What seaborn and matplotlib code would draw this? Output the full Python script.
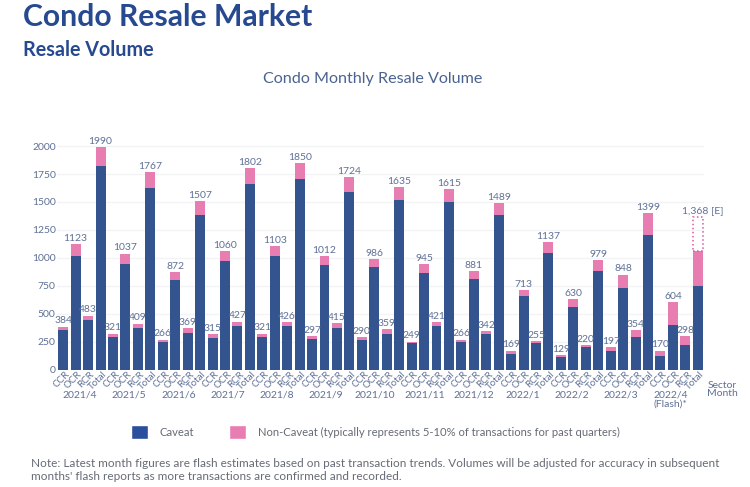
import pandas as pd
import seaborn as sns
import matplotlib.pyplot as plt
from matplotlib.patches import Patch
from matplotlib.transforms import ScaledTranslation

months = ['2021/4', '2021/5', '2021/6', '2021/7', '2021/8', '2021/9', '2021/10',
          '2021/11', '2021/12', '2022/1', '2022/2', '2022/3', '2022/4\n(Flash)*']
sectors = ['CCR', 'OCR', 'RCR', 'Total']
yticks = [0, 250, 500, 750, 1000, 1250, 1500, 1750, 2000]

# one row per month: CCR, OCR, RCR, Total
caveat = [
    [352, 1020, 441, 1822],
    [289, 948, 373, 1628],
    [242, 799, 331, 1381],
    [286, 969, 391, 1658],
    [292, 1014, 388, 1706],
    [271, 936, 370, 1593],
    [265, 916, 319, 1515],
    [233, 865, 391, 1497],
    [248, 811, 319, 1384],
    [140, 662, 233, 1047],
    [116, 561, 197, 886],
    [167, 728, 295, 1202],
    [119, 397, 221, 749],
]
all_tx = [
    [384, 1123, 483, 1990],
    [321, 1037, 409, 1767],
    [266, 872, 369, 1507],
    [315, 1060, 427, 1802],
    [321, 1103, 426, 1850],
    [297, 1012, 415, 1724],
    [290, 986, 359, 1635],
    [249, 945, 421, 1615],
    [266, 881, 342, 1489],
    [169, 713, 255, 1137],
    [129, 630, 220, 979],
    [197, 848, 354, 1399],
    [170, 604, 298, 1059],
]
estimate_total = 1368

BLUE = '#33548f'
PINK = '#e87db2'
TEXT = '#5f7096'
DARK = '#27498f'

rows = []
for m, month in enumerate(months):
    for s, sector in enumerate(sectors):
        rows.append({'key': f'{month}-{sector}', 'sector': sector,
                     'caveat': caveat[m][s], 'all_tx': all_tx[m][s]})
df = pd.DataFrame(rows)

sns.set_theme(style='white')
plt.rcParams['font.family'] = ['Lato', 'DejaVu Sans']

W, H = 750, 487
fig = plt.figure(figsize=(7.5, 4.87), dpi=100)
ax = fig.add_axes([57 / W, (H - 369.5) / H, 647 / W, 229 / H])

# pink total behind, blue caveat on top
sns.barplot(data=df, x='key', y='all_tx', color=PINK, saturation=1, width=0.8, gap=0, linewidth=0, ax=ax)
sns.barplot(data=df, x='key', y='caveat', color=BLUE, saturation=1, width=0.8, gap=0, linewidth=0, ax=ax)

last = len(df) - 1
ax.bar(last, estimate_total - all_tx[-1][-1], bottom=all_tx[-1][-1], width=0.8,
       fill=False, edgecolor='#d9589f', linestyle=':', linewidth=1.1)

ax.set_xlim(-0.5, last + 0.5)
ax.set_ylim(0, 2050)
ax.set_yticks(yticks)
ax.grid(axis='y', color='#f3f4f6', linewidth=1)
ax.set_axisbelow(True)
sns.despine(ax=ax, left=True, bottom=True)
ax.set_xlabel('')
ax.set_ylabel('')
ax.tick_params(axis='y', length=0, pad=1, labelsize=7.5, labelcolor=TEXT)

ax.tick_params(axis='x', length=0, pad=0)
ax.set_xticks(range(len(df)))
ax.set_xticklabels(df['sector'], rotation=45, ha='right', va='center',
                   rotation_mode='anchor', fontsize=7, color=TEXT)
# anchor each label by its right end, just under its bar
shift = ScaledTranslation(5 / 100, -3.5 / 100, fig.dpi_scale_trans)
for lab in ax.get_xticklabels():
    lab.set_transform(lab.get_transform() + shift)

# value labels
for i, row in df.iterrows():
    if i == last:
        continue
    ax.text(i, row['all_tx'] + 12, str(row['all_tx']), ha='center', va='bottom',
            fontsize=7.5, color=TEXT)
ax.text(last + 0.4, estimate_total + 15, '1,368 [E]', ha='center', va='bottom',
        fontsize=7.5, color=TEXT)

# month labels under each group of four
for m, month in enumerate(months):
    fig.text((80 + 49.2 * m) / W, (H - 390) / H, month, ha='center', va='top',
             fontsize=7.5, color=TEXT, linespacing=1.05)

fig.text(722 / W, (H - 385) / H, 'Sector', ha='center', va='center', fontsize=7.5, color=TEXT)
fig.text(722 / W, (H - 394) / H, 'Month', ha='center', va='center', fontsize=7.5, color=TEXT)

# headings
fig.text(23 / W, (H - 26) / H, 'Condo Resale Market', fontsize=21.7, fontweight='bold',
         color=DARK, ha='left', va='baseline')
fig.text(23 / W, (H - 56.5) / H, 'Resale Volume', fontsize=14.2, fontweight='bold',
         color=DARK, ha='left', va='baseline')
fig.text(372.5 / W, (H - 83) / H, 'Condo Monthly Resale Volume', fontsize=11.6,
         color='#4a6390', ha='center', va='baseline')

# legend
handles = [Patch(facecolor='#2a4f9c', label='Caveat'),
           Patch(facecolor=PINK, label='Non-Caveat (typically represents 5-10% of transactions for past quarters)')]
fig.legend(handles=handles, ncol=2, frameon=False, loc='center left',
           bbox_to_anchor=(131 / W, (H - 432) / H), fontsize=8.1, labelcolor='#666b75',
           borderpad=0, borderaxespad=0,
           handlelength=1.5, handleheight=1.6, handletextpad=1.05, columnspacing=3.1)

fig.text(31 / W, (H - 470) / H,
         'Note: Latest month figures are flash estimates based on past transaction trends. '
         'Volumes will be adjusted for accuracy in subsequent\n'
         "months' flash reports as more transactions are confirmed and recorded.",
         fontsize=8.5, color='#666b75', ha='left', va='center', linespacing=1.25)

fig.savefig('out.png', dpi=100)
